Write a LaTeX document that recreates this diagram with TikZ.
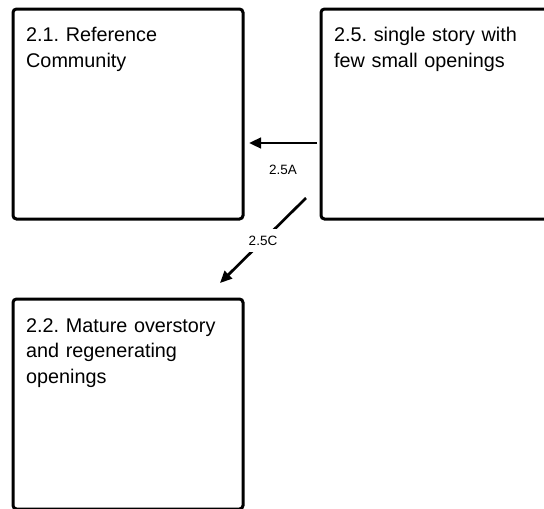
\documentclass[tikz,border=0pt]{standalone}
\usepackage{fontspec}
\setmainfont{Liberation Sans}
\usetikzlibrary{arrows.meta}
\frenchspacing
\begin{document}
\begin{tikzpicture}[x=1pt,y=-1pt,
  box/.style={draw, line width=3pt, rounded corners=3.5pt, minimum width=230pt, minimum height=210pt, inner sep=0pt, outer sep=0pt, anchor=north west},
  boxtext/.style={anchor=north west, align=left, font=\fontsize{19.8}{25.5}\selectfont, inner sep=0pt, text width=215pt},
  conn/.style={line width=2.7pt, -{Triangle[length=12pt,width=10.5pt]}},
  lab/.style={font=\fontsize{13.5}{16}\selectfont, inner sep=2pt}]
\useasboundingbox (0,0) rectangle (544,509);
\clip (0,0) rectangle (544,509);
\node[box] (b21) at (13,9) {};
\node[box] (b25) at (321,9) {};
\node[box] (b22) at (13,299) {};
\node[boxtext] (t21) at (26,27) {2.1. Reference\\Community};
\node[boxtext] (t25) at (334,27) {2.5. single story with\\few small openings};
\node[boxtext] (t22) at (26,318) {2.2. Mature overstory\\and regenerating\\openings};
\draw[conn] ([shift={(-4,134)}]b25.north west) -- node[lab, yshift=-27pt] (l5a) {2.5A} ([shift={(6,134)}]b21.north east);
\draw[conn] ([shift={(-15,189)}]b25.north west) -- node[lab, fill=white, inner xsep=3pt, inner ysep=7pt] (l5c) {2.5C} ([shift={(207,-16)}]b22.north west);
\end{tikzpicture}
\end{document}
